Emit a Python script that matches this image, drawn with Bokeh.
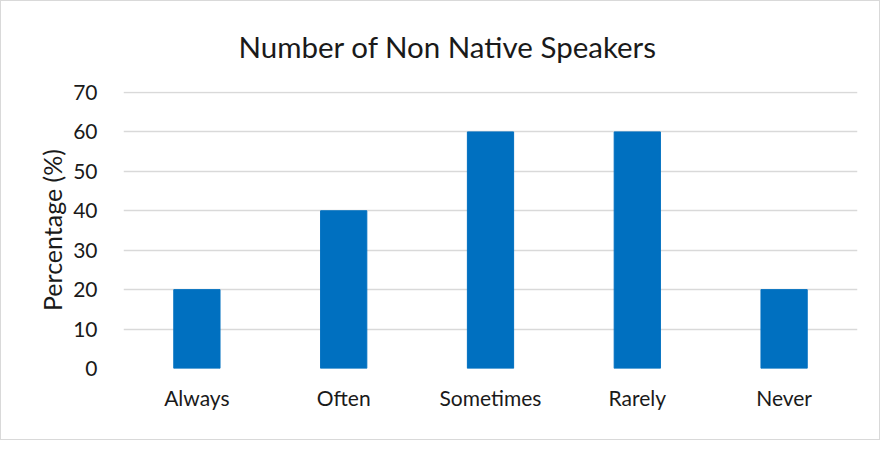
from bokeh.plotting import figure
from bokeh.embed import file_html
from bokeh.resources import INLINE
from bokeh.models import FixedTicker, Title

categories = ["Always", "Often", "Sometimes", "Rarely", "Never"]
values = [20, 40, 60, 60, 20]
y_ticks = [0, 10, 20, 30, 40, 50, 60, 70]
title_text = "Number of Non Native Speakers"

FONT = "Lato"
TXT = "#1a1a1a"

p = figure(x_range=categories, y_range=(0, 70.25), width=880, height=440,
           output_backend="svg", toolbar_location=None,
           min_border_left=122, min_border_right=24, min_border_top=90, min_border_bottom=73)
p.styles = {"border": "1px solid #d9d9d9"}

p.vbar(x=categories, top=values, width=0.315, color="#0070C0")

t = Title(text=title_text, align="left", vertical_align="top", text_font=FONT,
          text_font_size="29.5px", text_font_style="normal", text_color=TXT,
          offset=115, standoff=51)
p.add_layout(t, "above")

p.outline_line_color = None
p.xgrid.grid_line_color = None
p.ygrid.grid_line_color = "#d9d9d9"
p.ygrid.grid_line_width = 1.3
p.yaxis.ticker = FixedTicker(ticks=y_ticks)

for ax in (p.xaxis, p.yaxis):
    ax.axis_line_color = None
    ax.major_tick_line_color = None
    ax.minor_tick_line_color = None
    ax.major_label_text_font = FONT
    ax.major_label_text_font_size = "21px"
    ax.major_label_text_color = TXT

p.yaxis.major_label_standoff = 20
p.xaxis.major_label_standoff = 10
p.yaxis.axis_label = "Percentage (%)"
p.yaxis.axis_label_text_font = FONT
p.yaxis.axis_label_text_font_size = "25px"
p.yaxis.axis_label_text_font_style = "normal"
p.yaxis.axis_label_text_color = TXT
p.yaxis.axis_label_standoff = 3

open("out.html", "w").write(file_html(p, INLINE))
